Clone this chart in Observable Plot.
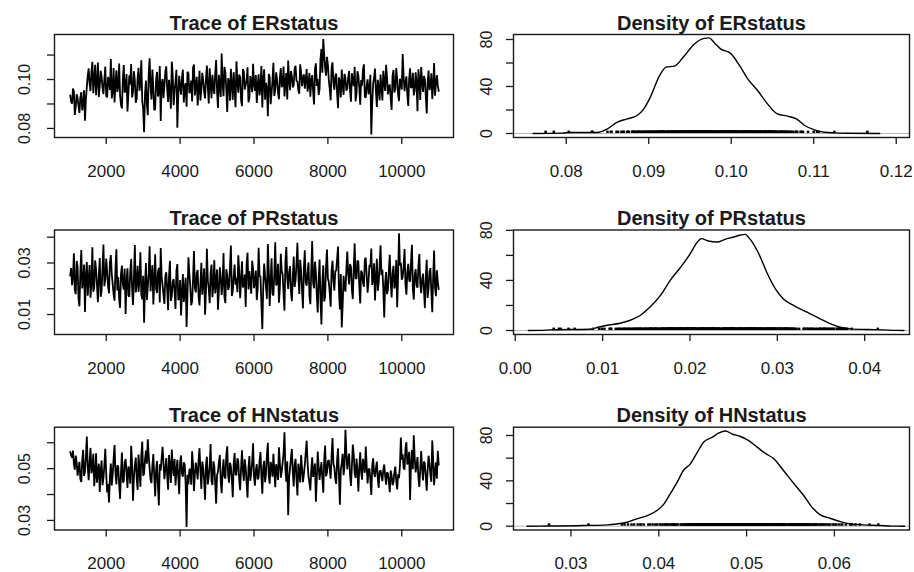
<!DOCTYPE html>
<html><head><meta charset="utf-8">
<script src="https://cdn.jsdelivr.net/npm/d3@7"></script>
<script src="https://cdn.jsdelivr.net/npm/@observablehq/plot@0.6"></script>
<style>
body{margin:0;background:#fff;}
#wrap{position:relative;width:914px;height:572px;background:#fff;overflow:hidden;font-family:"Liberation Sans",Arial,sans-serif;}
#wrap svg{position:absolute;}
</style></head><body><div id="wrap"></div>
<script>
// MCMC iterations (thinned): main draws at iterStart + k*iterStep, mid draws half a step later
const iterStart = 1025, iterStep = 50;
// Trace values, in thousandths
const erTrace = [
93.5,90.1,95.2,88.7,92.4,86.3,94.8,89.9,83.2,97.1,
104.6,95.3,107.2,99.8,93.6,106.9,97.4,101.2,94.0,105.3,
92.7,99.5,108.4,95.1,90.6,103.8,97.2,93.4,88.2,105.9,
96.8,86.9,101.7,106.3,95.0,99.4,92.1,104.8,97.9,91.3,
78.5,99.6,85.4,108.7,91.8,96.2,88.0,103.1,94.5,83.1,
100.2,97.5,105.4,90.8,94.7,107.3,89.5,99.1,80.3,101.5,
93.8,104.0,96.6,88.9,102.5,95.7,91.0,106.1,97.3,89.4,
103.6,95.9,99.8,92.3,105.7,90.2,98.4,101.9,94.1,108.0,
88.4,97.0,110.6,93.2,102.8,86.7,99.3,104.4,91.7,96.5,
107.5,94.6,100.9,89.1,103.3,97.8,105.0,92.5,99.0,106.4,
95.4,90.4,102.1,96.9,88.6,104.2,98.6,85.0,101.0,94.3,
106.8,96.1,99.9,91.9,104.7,97.6,93.1,102.6,107.8,95.6,
101.4,97.7,105.6,99.2,94.2,103.0,100.7,96.3,104.3,98.1,
93.0,101.8,89.8,106.6,100.3,96.0,112.5,116.5,104.9,109.3,
99.7,91.5,107.0,95.8,102.4,88.3,98.9,104.1,93.7,100.6,
96.4,103.5,90.9,99.4,105.2,94.4,101.6,89.7,97.5,106.2,
92.6,100.1,95.5,77.5,98.2,104.5,88.8,96.7,102.0,91.4,
99.0,106.0,93.9,97.9,87.6,103.9,96.0,100.5,91.2,98.8,
110.4,95.2,101.3,89.2,104.6,97.0,93.5,102.9,87.0,99.6,
105.1,94.9,100.0,86.1,103.7,96.8,92.0,106.7,98.3,97.5];
const erTraceMid = [
91.0,96.3,85.5,94.0,89.2,92.8,87.4,95.6,91.8,101.5,
98.2,103.1,94.4,106.0,99.0,92.9,103.6,96.5,100.4,93.3,
101.0,95.8,92.3,104.7,98.1,94.9,106.5,89.6,100.1,94.6,
102.2,94.3,98.0,92.7,103.4,90.5,100.7,95.4,107.9,88.0,
94.2,90.1,102.3,96.7,104.1,87.5,99.8,93.1,105.5,98.4,
92.4,103.3,96.0,99.9,88.1,101.7,95.2,104.0,93.6,97.0,
100.8,90.6,98.5,103.2,94.4,99.6,104.9,93.5,101.1,96.2,
91.4,102.7,94.8,100.3,97.0,104.6,92.4,96.8,102.5,95.1,
101.9,92.9,98.7,105.2,96.1,100.5,91.3,97.8,103.0,88.7,
99.3,102.0,91.6,104.3,95.9,99.7,90.7,101.4,94.8,98.2,
101.8,97.1,93.5,105.5,100.2,91.7,96.4,102.3,89.9,99.5,
93.3,102.9,94.6,100.8,96.9,105.3,99.1,91.8,100.0,103.5,
96.8,104.4,99.4,95.7,106.2,97.3,102.1,99.8,95.0,102.7,
99.5,95.2,104.1,97.4,93.7,108.5,102.8,110.0,101.6,106.0,
96.2,104.8,98.6,101.5,94.1,100.9,92.7,97.5,102.3,95.4,
100.8,95.3,102.6,97.3,91.1,103.4,96.6,99.8,104.0,92.9,
97.6,94.0,101.9,90.3,100.7,95.1,99.9,91.5,97.0,103.6,
95.3,100.9,97.2,92.3,101.5,94.7,104.7,93.8,100.3,95.9,
101.2,98.8,93.9,100.4,96.5,102.7,95.8,98.6,104.2,91.6,
99.2,101.4,93.2,98.9,95.7,102.5,97.6,93.4,101.8,95.3];
const prTrace = [
25.1,21.4,33.8,17.9,28.6,13.2,35.0,22.7,11.0,30.4,
24.0,16.5,36.1,20.3,27.5,14.8,31.9,19.1,37.2,23.6,
26.8,18.2,33.1,21.9,15.4,35.3,24.5,12.6,29.0,19.7,
10.2,27.9,16.9,31.5,13.7,37.0,22.0,18.8,34.2,15.9,
6.8,30.0,20.6,36.5,24.9,13.9,33.4,18.4,28.1,35.8,
21.3,14.1,26.4,11.7,30.8,17.2,23.8,12.2,29.6,16.1,
9.6,25.7,19.4,5.2,32.2,21.0,15.0,34.6,18.6,27.3,
13.5,30.1,22.4,9.9,35.5,20.0,26.0,16.7,31.1,23.0,
11.9,28.3,17.6,33.9,14.4,25.3,20.9,36.8,19.0,29.4,
24.2,33.0,16.3,30.7,21.6,12.9,34.0,26.9,18.1,27.7,
22.9,15.6,35.9,24.7,4.4,29.8,20.5,37.4,13.3,31.8,
17.4,38.0,22.1,14.6,33.6,25.6,11.5,36.2,19.9,28.8,
15.2,32.5,23.3,37.8,18.0,27.1,12.4,34.9,21.2,30.3,
14.0,38.5,20.2,26.6,10.8,31.3,6.1,29.1,17.0,35.2,
22.6,13.0,30.9,19.3,27.0,36.4,12.0,5.0,25.0,18.9,
34.4,21.7,28.4,16.0,37.6,23.9,30.6,14.3,26.2,20.8,
32.0,18.5,29.3,35.6,24.4,15.5,31.6,22.3,36.9,27.4,
8.9,26.5,19.6,33.2,16.6,28.9,21.5,12.8,41.5,30.2,
24.6,35.4,17.7,29.7,22.8,37.1,15.8,27.6,20.4,33.5,
18.3,25.9,12.5,31.2,20.1,28.0,10.9,34.8,17.1,22.5];
const prTraceMid = [
28.0,24.5,19.6,30.8,16.2,26.5,20.1,29.4,24.8,17.3,
29.2,22.5,18.8,31.0,21.2,25.3,16.9,28.2,21.0,31.7,
20.9,30.1,25.7,17.8,27.4,19.3,16.0,25.9,21.8,27.8,
22.6,17.4,26.7,20.1,24.3,18.6,28.9,23.3,17.7,25.0,
21.5,15.6,26.2,19.0,29.2,22.8,20.0,26.5,14.7,24.8,
17.5,24.9,19.8,25.1,15.3,22.6,18.9,27.0,15.6,23.4,
18.2,14.9,24.3,17.6,26.1,13.6,23.9,20.4,26.0,16.8,
21.8,17.7,27.9,19.0,23.2,14.4,29.4,21.4,18.2,27.5,
19.4,24.3,22.5,16.8,27.6,19.5,28.7,17.2,24.8,21.6,
18.7,26.8,23.3,20.5,25.5,29.6,19.7,22.1,30.9,20.2,
27.1,19.8,25.0,14.2,20.5,24.9,16.1,27.3,22.8,18.0,
25.9,21.3,29.7,20.2,26.9,17.9,30.4,24.2,26.4,18.8,
24.5,20.7,29.8,25.6,31.2,19.4,28.0,22.4,26.3,17.5,
27.3,22.4,30.5,17.3,23.8,15.6,22.1,15.1,28.5,24.0,
18.4,27.2,23.1,26.9,31.6,19.0,25.7,13.8,20.6,27.5,
25.8,29.6,19.5,28.2,24.1,30.9,20.9,27.0,22.5,31.4,
24.9,22.9,28.4,21.5,29.9,24.1,19.2,29.0,25.3,19.9,
22.2,17.9,27.0,22.7,25.8,20.1,31.1,24.6,29.1,23.5,
28.7,21.9,26.3,23.2,30.4,19.8,25.4,21.3,28.9,22.0,
23.7,19.6,24.6,16.4,26.8,18.7,24.8,20.4,27.2,19.8];
const hnTrace = [
56.5,54.2,51.8,55.0,47.3,52.6,44.9,57.3,49.0,62.4,
45.5,58.0,50.3,43.2,55.9,48.6,41.0,53.1,46.4,57.7,
40.8,36.9,52.0,47.8,59.1,43.9,50.9,38.3,56.2,45.1,
53.7,42.5,49.5,58.8,37.6,51.2,46.0,55.4,43.0,60.5,
48.1,57.0,61.3,50.0,44.4,55.6,39.3,52.9,35.8,49.2,
58.4,45.9,54.1,41.9,50.6,57.4,47.2,43.5,53.4,40.1,
55.1,46.9,51.5,27.5,44.0,49.8,56.7,41.4,52.3,45.8,
57.9,42.2,50.2,38.0,54.6,47.0,59.5,43.7,51.0,36.5,
48.9,55.3,40.5,53.6,46.2,58.6,44.6,50.7,39.0,56.0,
47.6,52.8,41.7,57.1,45.3,50.4,38.8,54.9,48.3,59.8,
43.4,51.7,46.6,56.4,40.3,53.0,48.0,60.0,44.2,50.8,
55.7,42.8,49.4,58.2,46.5,52.2,64.0,45.0,32.0,50.1,
57.6,43.1,53.8,39.6,48.7,55.2,44.8,51.4,60.8,47.1,
41.6,54.4,49.1,37.2,56.6,45.6,52.5,40.7,58.9,48.4,
53.3,46.1,61.8,50.5,44.1,57.8,36.1,52.1,47.5,65.0,
49.7,55.8,43.3,59.3,47.9,53.9,41.2,56.3,45.7,51.3,
58.5,44.3,50.0,39.8,54.0,46.8,52.7,42.6,49.3,45.2,
51.6,43.8,48.2,40.9,47.4,44.7,50.8,42.0,46.3,62.0,
55.5,49.6,60.2,53.2,37.9,57.2,62.9,48.5,54.5,42.9,
56.8,45.4,51.9,41.5,55.0,47.7,60.9,43.6,52.4,56.9];
const hnTraceMid = [
55.2,57.0,49.6,52.2,50.1,45.9,53.0,47.2,54.8,50.6,
52.4,48.2,55.7,47.7,44.6,51.9,49.0,43.6,51.4,48.0,
44.0,46.7,43.5,53.8,48.3,51.2,43.9,48.8,44.7,52.5,
48.5,50.8,44.2,52.1,46.8,54.3,41.8,49.9,55.1,47.3,
53.6,51.9,54.9,45.7,51.3,47.1,49.4,43.2,51.7,54.2,
52.0,49.8,47.5,55.3,44.5,51.1,53.7,49.2,46.9,52.6,
48.0,52.4,44.0,47.6,49.6,43.8,51.5,47.9,49.3,53.1,
49.0,52.7,45.4,51.6,43.9,50.9,45.2,52.8,44.3,47.5,
52.5,45.1,49.2,46.9,55.0,47.4,52.3,45.9,51.8,47.7,
54.0,45.5,50.2,49.1,53.6,44.4,50.1,45.3,52.4,47.0,
49.4,45.8,53.0,47.3,50.6,44.8,55.2,47.1,52.6,46.9,
49.1,51.7,45.6,52.3,48.9,56.0,49.8,52.8,46.4,54.2,
48.6,51.4,46.2,51.9,44.7,50.3,47.9,56.3,52.2,44.6,
49.5,46.8,52.0,46.1,50.7,49.2,46.3,53.1,47.0,52.9,
49.7,55.0,51.8,45.9,53.5,47.0,49.6,55.7,51.2,56.2,
53.5,47.5,51.0,55.4,46.4,49.0,50.3,48.7,53.8,48.4,
51.0,49.6,45.6,50.8,48.1,50.2,46.3,48.9,47.4,49.8,
47.2,48.6,44.9,49.3,43.6,48.6,45.3,47.8,51.0,53.5,
50.3,57.9,51.6,56.5,52.0,49.8,54.1,51.4,46.6,49.9,
50.1,52.7,46.8,49.4,51.8,44.9,53.3,49.0,46.1,51.5];

// Kernel density curves (value, density)
const erDensX = [0.0760,0.0795,0.0805,0.0838,0.0850,0.0862,0.0874,0.0886,0.0894,0.0902,0.0913,0.0921,0.0931,0.0943,0.0955,0.0967,0.0973,0.0979,0.0987,0.0999,0.1010,0.1020,0.1032,0.1044,0.1056,0.1068,0.1079,0.1089,0.1101,0.1113,0.1125,0.1140,0.1180];
const erDensY = [0,0.3,0.9,0.9,4,9.6,12.5,15.3,21,31,49,56.5,57.3,66,76,81,81.4,77.7,72,68.4,57.9,46.5,36.6,25.2,16.7,14.8,12.5,6.8,3.1,1.1,0.5,0.2,0];
const prDensX = [0.0015,0.0030,0.0039,0.0085,0.0095,0.0104,0.0120,0.0131,0.0143,0.0154,0.0166,0.0177,0.0189,0.0200,0.0208,0.0213,0.0221,0.0231,0.0240,0.0250,0.0258,0.0263,0.0269,0.0279,0.0288,0.0298,0.0307,0.0319,0.0334,0.0349,0.0361,0.0372,0.0384,0.0403,0.0422,0.0435,0.0445];
const prDensY = [0,0.1,0.5,1,2.6,4,5.8,8,12,18.5,27.8,39.7,50.3,61,70.2,73.4,71.5,70.7,72.8,74.7,76.3,76.8,72.8,61,46.4,33.1,25.2,19.9,14.6,9.3,5.3,2.6,1.3,0.8,0.5,0.1,0];
const hnDensX = [0.0250,0.0265,0.0314,0.0341,0.0352,0.0364,0.0375,0.0387,0.0398,0.0406,0.0413,0.0421,0.0428,0.0436,0.0444,0.0451,0.0461,0.0468,0.0476,0.0483,0.0493,0.0501,0.0512,0.0521,0.0531,0.0542,0.0554,0.0565,0.0576,0.0584,0.0595,0.0607,0.0618,0.0633,0.0652,0.0665,0.0680];
const hnDensY = [0,0.1,0.6,1.2,2,3.5,6.5,9.4,13.8,19.7,28.5,38.8,49.1,55,65.3,74.1,78.5,82,84,81.5,79.1,76.2,69.7,64.4,59.4,49.1,37.4,27.1,15.3,10,7,4.1,2,1.2,0.6,0.1,0];

// Tick values
const traceXTicks = [2000,4000,6000,8000,10000];
const erTraceYTicks = [0.08,0.09,0.10,0.11], erTraceYLabels = [0.08,0.10];
const prTraceYTicks = [0.01,0.02,0.03,0.04], prTraceYLabels = [0.01,0.03];
const hnTraceYTicks = [0.03,0.04,0.05,0.06], hnTraceYLabels = [0.03,0.05];
const densYTicks = [0,20,40,60,80], densYLabels = [0,40,80];
const erDensXTicks = [0.08,0.09,0.10,0.11,0.12];
const prDensXTicks = [0.00,0.01,0.02,0.03,0.04];
const hnDensXTicks = [0.03,0.04,0.05,0.06];

const FONT = "'Liberation Sans', Arial, sans-serif";
const INK = "#1a1a1a";
const wrap = document.getElementById("wrap");

function merge(main, mid) {
  const out = [];
  main.forEach((v, i) => {
    out.push({iter: iterStart + i * iterStep, v: v / 1000});
    out.push({iter: iterStart + i * iterStep + iterStep / 2, v: mid[i] / 1000});
  });
  return out;
}

function panel(o) {
  const p = Plot.plot({
    width: o.w, height: o.h,
    marginLeft: o.ml, marginRight: o.mr, marginTop: o.mt, marginBottom: o.mb,
    style: {fontFamily: FONT, color: INK, background: "transparent", overflow: "visible"},
    x: {domain: o.xDomain, label: null},
    y: {domain: o.yDomain, label: null},
    marks: [
      ...o.marks,
      Plot.frame({stroke: INK, strokeWidth: 1.4}),
      Plot.axisX({ticks: o.xTicks, label: null, tickSize: 7, tickPadding: 20, fontSize: 17, tickFormat: o.xFmt, strokeWidth: 1.3}),
      Plot.axisY({ticks: o.yTicks, label: null, tickSize: 7, tickFormat: () => "", strokeWidth: 1.3}),
      Plot.text(o.yLabels, {y: d => d, text: o.yFmt, frameAnchor: "left", rotate: -90, textAnchor: "middle", lineAnchor: "bottom", dx: o.ydx, fontSize: 16, fill: INK}),
      Plot.text([o.title], {text: d => d, frameAnchor: "top", lineAnchor: "bottom", dy: -5, fontSize: 20, fontWeight: "bold", fill: INK})
    ]
  });
  p.style.left = o.left + "px";
  p.style.top = o.top + "px";
  wrap.appendChild(p);
}

function tracePanel(name, data, yDomain, yTicks, yLabels, top, h, mt, mb) {
  panel({
    left: 0, top, w: 457, h, ml: 54, mr: 4, mt, mb,
    xDomain: [600, 11400], yDomain,
    xTicks: traceXTicks, xFmt: d => String(d),
    yTicks, yLabels, yFmt: d => d.toFixed(2), ydx: -25,
    title: "Trace of " + name,
    marks: [Plot.line(data, {x: "iter", y: "v", stroke: "#000", strokeWidth: 1.8, strokeLinejoin: "miter"})]
  });
}

function densPanel(name, dx, dy, obs, xDomain, yDomain, xTicks, top, h, mt, mb) {
  const curve = dx.map((x, i) => ({x, y: dy[i]}));
  const rugH = d3.max(dy) / 100 * 2.5;
  panel({
    left: 457, top, w: 457, h, ml: 56, mr: 5, mt, mb,
    xDomain, yDomain,
    xTicks, xFmt: d => d.toFixed(2),
    yTicks: densYTicks, yLabels: densYLabels, yFmt: d => String(d), ydx: -22,
    title: "Density of " + name,
    marks: [
      Plot.ruleY([0], {stroke: "#b8b8b8", strokeWidth: 1}),
      Plot.ruleX(obs, {x: "v", y1: 0, y2: rugH, stroke: "#000", strokeWidth: 2.5}),
      Plot.line(curve, {x: "x", y: "y", stroke: "#000", strokeWidth: 1.4, curve: "monotone-x"})
    ]
  });
}

const erData = merge(erTrace, erTraceMid);
const prData = merge(prTrace, prTraceMid);
const hnData = merge(hnTrace, hnTraceMid);

tracePanel("ERstatus", erData, [0.0763, 0.1184], erTraceYTicks, erTraceYLabels, 0, 190, 34, 53);
tracePanel("PRstatus", prData, [0.00225, 0.0428], prTraceYTicks, prTraceYLabels, 190, 190, 39.5, 46);
tracePanel("HNstatus", hnData, [0.0263, 0.0660], hnTraceYTicks, hnTraceYLabels, 380, 192, 46.7, 42.5);

densPanel("ERstatus", erDensX, erDensY, erData, [0.07361, 0.12161], [-3.4, 84.26], erDensXTicks, 0, 190, 34, 53);
densPanel("PRstatus", prDensX, prDensY, prData, [-0.0002, 0.04513], [-3.2, 80.3], prDensXTicks, 190, 190, 39.5, 46);
densPanel("HNstatus", hnDensX, hnDensY, hnData, [0.02346, 0.06855], [-3.35, 87.3], hnDensXTicks, 380, 192, 46.7, 42.5);
</script>
</body></html>
